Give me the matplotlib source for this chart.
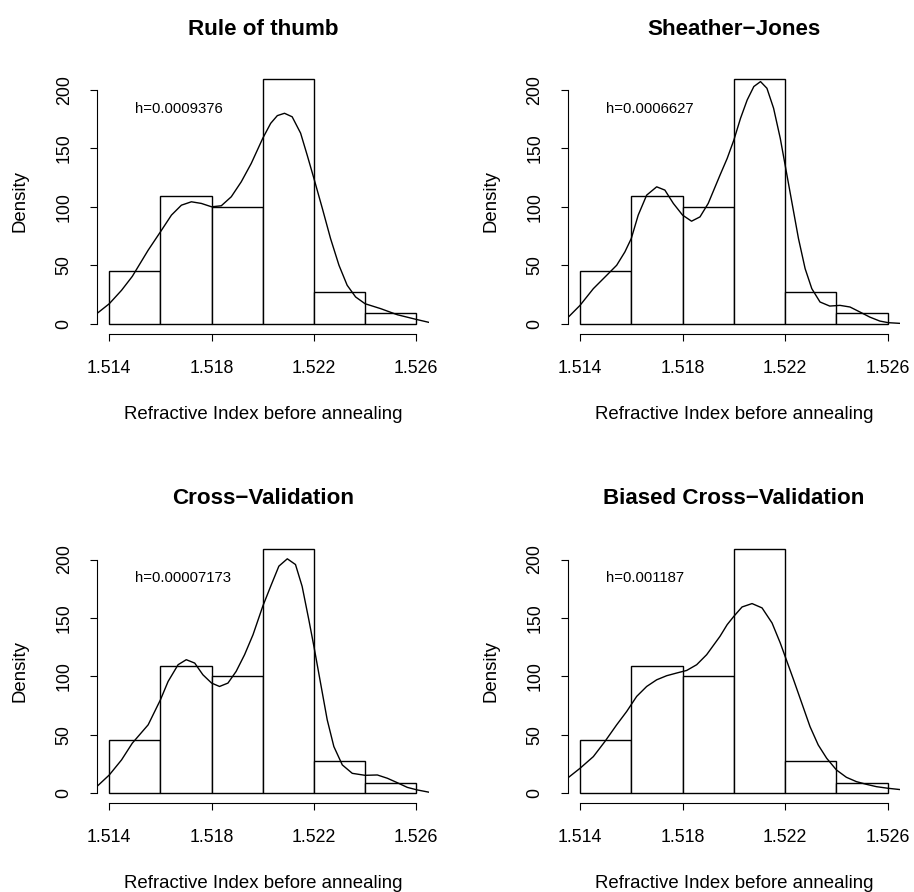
import matplotlib
matplotlib.use("Agg")
from matplotlib import pyplot as plt

plt.rcParams['font.family'] = ['Liberation Sans', 'DejaVu Sans']

# histogram of refractive index (density scale)
bin_edges = [1.514, 1.516, 1.518, 1.520, 1.522, 1.524, 1.526]
bin_density = [45.45, 109.09, 100.0, 209.09, 27.27, 9.09]

titles = ['Rule of thumb', 'Sheather\u2212Jones', 'Cross\u2212Validation', 'Biased Cross\u2212Validation']
bw_labels = ['h=0.0009376', 'h=0.0006627', 'h=0.00007173', 'h=0.001187']

# kernel density curves
rot_x = [1.51351, 1.514, 1.51448, 1.5149, 1.51552, 1.516, 1.51643, 1.51682, 1.51721, 1.5176,
         1.518, 1.51838, 1.51877, 1.51916, 1.51955, 1.520, 1.52031, 1.52057, 1.52085, 1.52115,
         1.52148, 1.52174, 1.522, 1.52233, 1.52265, 1.52298, 1.5233, 1.52363, 1.524, 1.52461,
         1.52526, 1.526, 1.52649]
rot_y = [8.6, 17.1, 28.6, 40.5, 62.9, 78.6, 92.9, 101.4, 104.3, 102.9,
         100.0, 100.9, 108.6, 121.4, 137.1, 158.6, 171.4, 178.0, 180.0, 177.0,
         163.0, 144.0, 124.3, 98.6, 72.9, 50.0, 32.9, 22.9, 17.1, 12.9,
         7.7, 3.7, 1.2]

sj_x = [1.51351, 1.514, 1.51452, 1.51504, 1.51543, 1.51575, 1.516, 1.51627, 1.5166, 1.51699,
        1.51731, 1.51764, 1.518, 1.51835, 1.51868, 1.519, 1.51946, 1.51974, 1.520, 1.52026,
        1.52052, 1.52078, 1.52104, 1.52129, 1.52155, 1.52181, 1.522, 1.52226, 1.52252, 1.52278,
        1.52304, 1.52336, 1.52374, 1.52414, 1.52453, 1.52492, 1.5253, 1.52569, 1.52602, 1.52649]
sj_y = [4.9, 15.7, 30.0, 41.4, 50.0, 61.4, 72.9, 92.9, 110.0, 117.1,
        114.3, 102.9, 92.9, 87.7, 91.4, 102.9, 127.1, 141.4, 157.1, 175.7,
        191.4, 202.9, 207.1, 201.4, 184.3, 158.6, 135.7, 104.3, 72.9, 47.1,
        30.0, 18.6, 15.1, 15.7, 14.3, 10.0, 5.7, 2.3, 0.9, 0.3]

cv_x = [1.51351, 1.514, 1.51448, 1.5149, 1.51552, 1.516, 1.5163, 1.51669, 1.51701, 1.51734,
        1.51766, 1.518, 1.51831, 1.51864, 1.51896, 1.51929, 1.51962, 1.520, 1.52031, 1.52063,
        1.52096, 1.52128, 1.52154, 1.5218, 1.522, 1.52226, 1.52252, 1.52278, 1.52311, 1.5235,
        1.524, 1.52448, 1.52487, 1.52526, 1.52565, 1.52604, 1.52649]
cv_y = [5.7, 15.7, 28.6, 42.9, 58.6, 80.0, 95.7, 110.0, 114.3, 111.4,
        101.4, 94.3, 91.4, 94.3, 104.3, 118.6, 135.7, 160.0, 177.1, 194.3,
        200.6, 195.7, 177.0, 148.6, 125.7, 94.3, 62.9, 40.0, 24.3, 17.1,
        15.4, 15.7, 12.9, 9.1, 5.1, 2.9, 1.0]

bcv_x = [1.51351, 1.514, 1.51452, 1.51497, 1.51543, 1.51582, 1.51621, 1.5166, 1.51699, 1.51738,
         1.51777, 1.51816, 1.51855, 1.51894, 1.51946, 1.51974, 1.520, 1.52032, 1.52071, 1.5211,
         1.52149, 1.52181, 1.522, 1.52233, 1.52265, 1.52297, 1.52329, 1.52362, 1.524, 1.52439,
         1.52478, 1.52517, 1.52556, 1.52602, 1.52649]
bcv_y = [12.9, 21.4, 31.4, 44.3, 58.6, 70.0, 82.9, 91.4, 97.1, 100.6,
         102.9, 105.1, 110.0, 118.6, 134.3, 144.3, 151.4, 159.4, 162.3, 158.6,
         145.7, 128.6, 117.1, 97.1, 77.1, 57.1, 41.4, 30.0, 20.0, 13.7,
         10.0, 7.7, 5.7, 4.3, 3.2]

curves = [(rot_x, rot_y), (sj_x, sj_y), (cv_x, cv_y), (bcv_x, bcv_y)]

fig = plt.figure(figsize=(9.14, 8.92), dpi=100)
W, H = 914.0, 892.0
# axes boxes in pixels: left, top, right, bottom
boxes = [(97, 69.5, 428.5, 333.5), (567.7, 69.5, 900, 333.5),
         (97, 539.1, 428.5, 803.1), (567.7, 539.1, 900, 803.1)]

for i in range(4):
    l, t, r, b = boxes[i]
    ax = fig.add_axes([l / W, 1 - b / H, (r - l) / W, (b - t) / H])
    ax.bar(bin_edges[:-1], bin_density, width=0.002, align='edge',
           facecolor='white', edgecolor='black', linewidth=1.0)
    ax.plot(curves[i][0], curves[i][1], color='black', linewidth=1.0)
    ax.set_xlim(1.51352, 1.52648)
    ax.set_ylim(-8.36, 217.45)

    for s in ['top', 'right']:
        ax.spines[s].set_visible(False)
    ax.spines['left'].set_bounds(0, 200)
    ax.spines['bottom'].set_bounds(1.514, 1.526)
    ax.spines['left'].set_linewidth(0.8)
    ax.spines['bottom'].set_linewidth(0.8)

    ax.set_xticks([1.514, 1.518, 1.522, 1.526])
    ax.set_xticklabels(['1.514', '1.518', '1.522', '1.526'])
    ax.set_yticks([0, 50, 100, 150, 200])
    ax.set_yticklabels(['0', '50', '100', '150', '200'], rotation=90, va='center')
    ax.tick_params(axis='both', direction='out', length=5, width=0.8, labelsize=12.8)
    ax.tick_params(axis='x', pad=14)
    ax.tick_params(axis='y', pad=12.5)

    ax.set_xlabel('Refractive Index before annealing', fontsize=13.4, va='center')
    ax.xaxis.set_label_coords(0.5, -0.305)
    ax.set_ylabel('Density', fontsize=13.4, va='center')
    ax.yaxis.set_label_coords(-0.232, 0.5)

    ax.text(0.5, 1.152, titles[i], transform=ax.transAxes, ha='center', va='center',
            fontsize=16.1, fontweight='bold')
    ax.text(1.51502, 184, bw_labels[i], ha='left', va='center', fontsize=10.7)

fig.savefig('out.png', dpi=100)
